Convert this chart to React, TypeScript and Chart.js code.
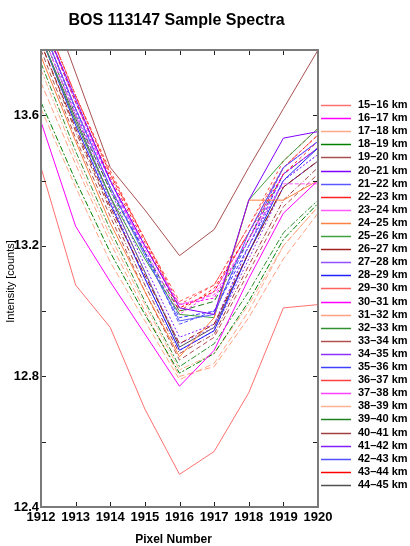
import React, { useEffect, useRef } from "react";
import { Chart, registerables } from "chart.js";

Chart.register(...registerables);

const TITLE = "BOS 113147 Sample Spectra";
const X_TITLE = "Pixel Number";
const Y_TITLE = "Intensity [counts]";

const pixels = [1912, 1913, 1914, 1915, 1916, 1917, 1918, 1919, 1920];
const yTickLabels = ["12.4", "12.8", "13.2", "13.6"];

const altitudes = [
  "15–16 km", "16–17 km", "17–18 km", "18–19 km", "19–20 km", "20–21 km",
  "21–22 km", "22–23 km", "23–24 km", "24–25 km", "25–26 km", "26–27 km",
  "27–28 km", "28–29 km", "29–30 km", "30–31 km", "31–32 km", "32–33 km",
  "33–34 km", "34–35 km", "35–36 km", "36–37 km", "37–38 km", "38–39 km",
  "39–40 km", "40–41 km", "41–42 km", "42–43 km", "43–44 km", "44–45 km",
];

const colors = [
  "#ff7070", "#ff00ff", "#ffa888", "#008000", "#a85050", "#8000ff",
  "#5858ff", "#ff2020", "#ff58ff", "#ff8040", "#40a040", "#a02020",
  "#9050ff", "#2020ff", "#ff6060", "#ff00ff", "#ffa080", "#309030",
  "#b05050", "#9030ff", "#4040ff", "#ff4040", "#ff40ff", "#ffb090",
  "#208020", "#a04040", "#8020ff", "#5050ff", "#ff0000", "#505050",
];

const dashes: number[][] = [
  [], [], [6, 3], [6, 2, 2, 2], [], [], [], [3, 3], [4, 2], [], [], [6, 3],
  [2, 2], [], [4, 3], [3, 2], [6, 3], [6, 2, 2, 2], [5, 3], [2, 2], [4, 2],
  [3, 3], [3, 2], [6, 2, 2, 2], [6, 3], [5, 2, 1, 2], [2, 2], [4, 2], [3, 2], [],
];

const s15 = [13.44, 13.08, 12.95, 12.7, 12.5, 12.57, 12.75, 13.01, 13.02];
const s16 = [13.58, 13.26, 13.09, 12.93, 12.77, 12.88, 13.1, 13.3, 13.4];
const s17 = [13.62, 13.38, 13.15, 12.97, 12.79, 12.84, 13.0, 13.2, 13.32];
const s18 = [13.64, 13.4, 13.18, 12.99, 12.81, 12.87, 13.03, 13.22, 13.33];
const s19 = [14.02, 13.73, 13.44, 13.31, 13.17, 13.25, 13.44, 13.62, 13.8];
const s20 = [13.9, 13.65, 13.4, 13.2, 13.01, 12.99, 13.34, 13.53, 13.55];
const s21 = [13.88, 13.62, 13.38, 13.17, 12.97, 12.99, 13.24, 13.44, 13.52];
const s22 = [13.9, 13.64, 13.41, 13.21, 13.0, 13.07, 13.24, 13.42, 13.52];
const s23 = [13.86, 13.6, 13.38, 13.2, 13.02, 13.05, 13.22, 13.39, 13.39];
const s24 = [13.78, 13.52, 13.27, 13.06, 12.86, 12.98, 13.34, 13.34, 13.4];
const s25 = [13.84, 13.58, 13.35, 13.16, 12.99, 12.98, 13.34, 13.46, 13.56];
const s26 = [13.82, 13.56, 13.32, 13.11, 12.9, 12.96, 13.18, 13.38, 13.46];
const s27 = [13.86, 13.6, 13.35, 13.12, 12.9, 12.95, 13.2, 13.4, 13.48];
const s28 = [13.84, 13.57, 13.33, 13.1, 12.88, 12.94, 13.18, 13.4, 13.5];
const s29 = [13.92, 13.66, 13.42, 13.22, 13.03, 13.08, 13.26, 13.44, 13.54];
const s30 = [13.88, 13.62, 13.4, 13.2, 13.02, 13.04, 13.22, 13.42, 13.5];
const s31 = [13.7, 13.45, 13.21, 13.0, 12.8, 12.83, 12.98, 13.16, 13.3];
const s32 = [13.76, 13.49, 13.25, 13.03, 12.83, 12.9, 13.06, 13.24, 13.34];
const s33 = [13.8, 13.53, 13.29, 13.06, 12.85, 12.92, 13.12, 13.32, 13.42];
const s34 = [13.84, 13.58, 13.34, 13.1, 12.88, 12.94, 13.16, 13.38, 13.46];
const s35 = [13.88, 13.62, 13.38, 13.18, 12.98, 13.0, 13.2, 13.42, 13.5];
const s36 = [13.92, 13.66, 13.43, 13.22, 13.02, 13.08, 13.26, 13.46, 13.56];
const s37 = [13.9, 13.64, 13.4, 13.19, 12.99, 13.06, 13.24, 13.44, 13.52];
const s38 = [13.74, 13.47, 13.23, 13.02, 12.82, 12.87, 13.02, 13.2, 13.32];
const s39 = [13.86, 13.6, 13.37, 13.18, 13.0, 13.03, 13.22, 13.42, 13.5];
const s40 = [13.82, 13.55, 13.31, 13.08, 12.87, 12.93, 13.14, 13.34, 13.44];
const s41 = [13.88, 13.61, 13.37, 13.14, 12.92, 12.96, 13.2, 13.4, 13.48];
const s42 = [13.9, 13.64, 13.4, 13.18, 12.96, 13.0, 13.22, 13.44, 13.52];
const s43 = [13.92, 13.66, 13.42, 13.22, 13.01, 13.06, 13.24, 13.44, 13.54];
const s44 = [13.84, 13.59, 13.35, 13.12, 12.89, 12.95, 13.18, 13.38, 13.46];

const series = [
  s15, s16, s17, s18, s19, s20, s21, s22, s23, s24, s25, s26, s27, s28, s29,
  s30, s31, s32, s33, s34, s35, s36, s37, s38, s39, s40, s41, s42, s43, s44,
];

const FONT = "'Liberation Sans', Arial, Helvetica, sans-serif";

const decorPlugin = {
  id: "decor",
  afterDatasetsDraw(chart: any) {
    const { ctx, chartArea, scales } = chart;
    const { left, right, top, bottom } = chartArea;
    const xs = scales.x;
    const ys = scales.y;
    ctx.save();
    ctx.strokeStyle = "#222";
    ctx.lineWidth = 1;
    ctx.setLineDash([]);
    ctx.beginPath();
    xs.ticks.forEach((t: any) => {
      const px = Math.round(xs.getPixelForValue(t.value)) + 0.5;
      ctx.moveTo(px, bottom);
      ctx.lineTo(px, bottom - 5);
      ctx.moveTo(px, top);
      ctx.lineTo(px, top + 5);
    });
    ys.ticks.forEach((t: any) => {
      const py = Math.round(ys.getPixelForValue(t.value)) + 0.5;
      ctx.moveTo(left, py);
      ctx.lineTo(left + 5, py);
      ctx.moveTo(right, py);
      ctx.lineTo(right - 5, py);
    });
    ctx.stroke();
    ctx.strokeStyle = "#7a7a7a";
    ctx.lineWidth = 2;
    ctx.strokeRect(left, top, right - left, bottom - top);
    ctx.restore();
  },
  afterDraw(chart: any) {
    const { ctx, chartArea } = chart;
    const { left, right, top, bottom } = chartArea;
    ctx.save();
    ctx.fillStyle = "#000";
    ctx.font = `bold 16px ${FONT}`;
    ctx.textAlign = "center";
    ctx.textBaseline = "middle";
    ctx.fillText(TITLE, (left + right) / 2 - 3, 21);
    ctx.font = `bold 12px ${FONT}`;
    ctx.fillText(X_TITLE, (left + right) / 2 - 6, 540);
    ctx.save();
    ctx.translate(11, (top + bottom) / 2 + 3);
    ctx.rotate(-Math.PI / 2);
    ctx.font = `11px ${FONT}`;
    ctx.fillText(Y_TITLE, 0, 0);
    ctx.restore();
    ctx.font = `bold 11px ${FONT}`;
    ctx.textAlign = "left";
    chart.data.datasets.forEach((ds: any, i: number) => {
      const y = 105 + i * 13.1;
      ctx.strokeStyle = ds.borderColor;
      ctx.lineWidth = 1.5;
      ctx.setLineDash([]);
      ctx.beginPath();
      ctx.moveTo(321, Math.round(y) + 0.5);
      ctx.lineTo(351, Math.round(y) + 0.5);
      ctx.stroke();
      ctx.fillStyle = "#000";
      ctx.fillText(ds.label, 358, y);
    });
    ctx.restore();
  },
};

export default function App() {
  const canvasRef = useRef<HTMLCanvasElement | null>(null);

  useEffect(() => {
    const canvas = canvasRef.current;
    if (!canvas) return;
    const datasets = series.map((vals, i) => ({
      label: altitudes[i],
      data: pixels.map((p, j) => ({ x: p, y: vals[j] })),
      borderColor: colors[i],
      backgroundColor: colors[i],
      borderWidth: 1,
      borderDash: dashes[i],
      pointRadius: 0,
      fill: false,
      tension: 0,
    }));
    const chart = new Chart(canvas, {
      type: "line",
      data: { datasets },
      options: {
        responsive: false,
        animation: false,
        devicePixelRatio: 1,
        layout: { padding: { top: 50, right: 92, left: 0, bottom: 0 } },
        plugins: {
          legend: { display: false },
          title: { display: false },
          tooltip: { enabled: false },
        },
        scales: {
          x: {
            type: "linear",
            min: pixels[0],
            max: pixels[pixels.length - 1],
            grid: { display: false, drawTicks: false },
            border: { display: false },
            ticks: {
              stepSize: 1,
              autoSkip: false,
              maxRotation: 0,
              padding: 3,
              color: "#000",
              font: { family: FONT, size: 13, weight: "bold" },
              callback: (v: any) => String(v),
            },
            afterFit: (s: any) => {
              s.height = 39;
            },
          },
          y: {
            type: "linear",
            min: 12.4,
            max: 13.8,
            grid: { display: false, drawTicks: false },
            border: { display: false },
            ticks: {
              stepSize: 0.2,
              autoSkip: false,
              padding: 2,
              color: "#000",
              font: { family: FONT, size: 13, weight: "bold" },
              callback: (v: any) => {
                const f = yTickLabels.find((l) => Math.abs(parseFloat(l) - Number(v)) < 1e-6);
                return f ?? "";
              },
            },
            afterFit: (s: any) => {
              s.width = 41;
            },
          },
        },
      },
      plugins: [decorPlugin],
    });
    return () => chart.destroy();
  }, []);

  return (
    <div style={{ position: "fixed", left: 0, top: 0, width: 410, height: 546, background: "#fff" }}>
      <canvas ref={canvasRef} width={410} height={546} style={{ display: "block" }} />
    </div>
  );
}
